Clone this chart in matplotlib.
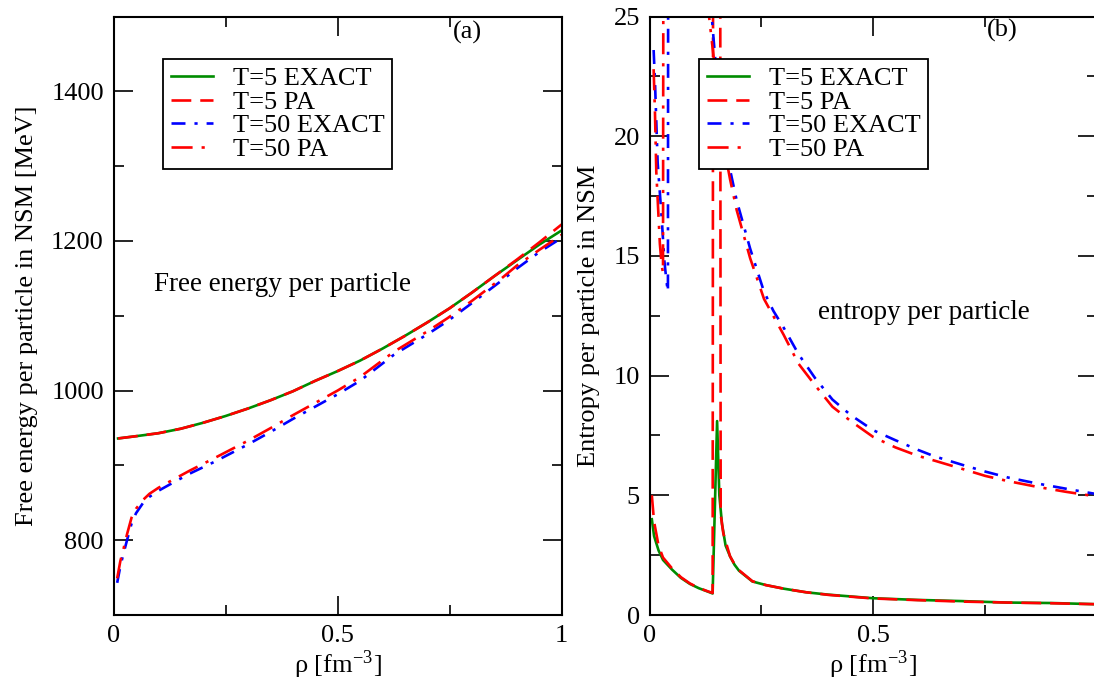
import numpy as np
import matplotlib
matplotlib.use("Agg")
import matplotlib.pyplot as plt
from matplotlib.ticker import MultipleLocator

plt.rcParams['font.family'] = ['Liberation Serif', 'DejaVu Serif']
plt.rcParams['mathtext.fontset'] = 'stix'

# ---- panel (a): free energy per particle ----
rho_a5 = [0.01, 0.05, 0.1, 0.15, 0.2, 0.25, 0.3, 0.35, 0.4, 0.45, 0.5,
          0.55, 0.6, 0.65, 0.7, 0.75, 0.8, 0.85, 0.9, 0.95, 1.0]
F_t5_exact = [936, 939, 943, 949, 957, 966, 976, 987, 999, 1013, 1026,
              1040, 1056, 1073, 1091, 1110, 1131, 1153, 1174, 1195, 1214]
F_t5_pa = [936, 939, 943, 949, 957, 966, 976, 987, 999, 1013, 1026,
           1040, 1056, 1073, 1091, 1110, 1131, 1153, 1175, 1198, 1222]

rho_a50 = [0.008, 0.015, 0.022, 0.03, 0.04, 0.05, 0.066, 0.08, 0.1, 0.13,
           0.17, 0.226, 0.3, 0.354, 0.4, 0.5, 0.55, 0.626, 0.7, 0.746,
           0.8, 0.866, 0.9, 0.95, 1.0]
F_t50_exact = [743, 765, 782, 800, 822, 836, 850, 858, 866, 876, 889, 905,
               928, 946, 962, 995, 1013, 1048, 1075, 1093, 1117, 1147,
               1163, 1185, 1204]
F_t50_pa = [749, 772, 788, 808, 830, 842, 854, 862, 870, 880, 893, 910,
            933, 951, 967, 1000, 1018, 1052, 1079, 1097, 1120, 1150,
            1167, 1188, 1208]

# ---- panel (b): entropy per particle ----
rho_b5e = [0.005, 0.01, 0.02, 0.03, 0.05, 0.07, 0.09, 0.11, 0.13, 0.141,
           0.151, 0.156, 0.162, 0.17, 0.18, 0.19, 0.2, 0.23, 0.26, 0.3,
           0.35, 0.4, 0.5, 0.6, 0.7, 0.8, 0.9, 1.0]
S_t5_exact = [4.0, 3.3, 2.7, 2.3, 1.9, 1.55, 1.3, 1.12, 0.98, 0.9,
              8.1, 5.0, 3.8, 2.9, 2.45, 2.1, 1.85, 1.4, 1.25, 1.1,
              0.95, 0.85, 0.7, 0.63, 0.58, 0.52, 0.5, 0.45]

rho_b5p = [0.005, 0.01, 0.02, 0.03, 0.05, 0.07, 0.09, 0.11, 0.13, 0.141,
           0.1425, 0.1575, 0.159, 0.165, 0.18, 0.19, 0.2, 0.23, 0.26, 0.3,
           0.35, 0.4, 0.5, 0.6, 0.7, 0.8, 0.9, 1.0]
S_t5_pa = [5.0, 3.9, 2.9, 2.4, 1.95, 1.58, 1.32, 1.13, 0.99, 0.92,
           40.0, 40.0, 4.2, 3.4, 2.45, 2.12, 1.87, 1.41, 1.25, 1.1,
           0.95, 0.84, 0.69, 0.62, 0.56, 0.52, 0.49, 0.45]

rho_b50e = [0.009, 0.012, 0.018, 0.027, 0.033, 0.038, 0.041, 0.042,
            0.135, 0.139, 0.15, 0.165, 0.18, 0.195, 0.225, 0.256, 0.277,
            0.3, 0.333, 0.37, 0.409, 0.45, 0.5, 0.55, 0.6, 0.637, 0.7,
            0.751, 0.8, 0.865, 0.93, 1.0]
S_t50_exact = [23.6, 22.3, 18.9, 16.6, 14.8, 13.9, 13.5, 40.0,
               30.0, 25.0, 22.5, 20.1, 18.6, 17.3, 15.3, 13.5, 12.7,
               12.0, 10.9, 9.9, 9.0, 8.35, 7.72, 7.3, 6.9, 6.63, 6.27,
               5.99, 5.75, 5.5, 5.28, 5.05]

rho_b50p = [0.009, 0.012, 0.015, 0.019, 0.023, 0.027, 0.03, 0.0315,
            0.13, 0.133, 0.15, 0.165, 0.18, 0.195, 0.225, 0.256, 0.3,
            0.333, 0.37, 0.409, 0.45, 0.5, 0.55, 0.6, 0.637, 0.7, 0.751,
            0.8, 0.865, 0.93, 1.0]
S_t50_pa = [22.8, 21.0, 18.5, 17.0, 15.5, 14.6, 14.3, 40.0,
            30.0, 25.0, 22.2, 19.7, 18.2, 16.9, 14.9, 13.2, 11.7,
            10.5, 9.6, 8.7, 8.1, 7.44, 7.0, 6.65, 6.45, 6.1, 5.81,
            5.6, 5.36, 5.15, 4.95]

labels = ['T=5 EXACT', 'T=5 PA', 'T=50 EXACT', 'T=50 PA']

W, H = 1094, 681
fig = plt.figure(figsize=(W / 100, H / 100), dpi=100)
axa = fig.add_axes([113.6 / W, (H - 615) / H, 448 / W, 598.5 / H])
axb = fig.add_axes([649.6 / W, (H - 615) / H, 447 / W, 598.5 / H])

lw = 1.9
fs = 19


def draw(ax, x5e, y5e, x5p, y5p, x50e, y50e, x50p, y50p):
    ax.plot(x5e, y5e, color='#008c00', lw=lw, label=labels[0])
    ax.plot(x5p, y5p, color='red', lw=lw, dashes=(7.5, 3.4), label=labels[1])
    ax.plot(x50e, y50e, color='blue', lw=lw, dashes=(5.3, 3.4, 1.2, 3.4),
            label=labels[2])
    ax.plot(x50p, y50p, color='red', lw=lw, dashes=(8, 3.4, 1.2, 3.4),
            label=labels[3])
    for s in ax.spines.values():
        s.set_linewidth(1.5)
    ax.tick_params(which='both', direction='in', top=True, right=True,
                   labelsize=fs, width=1.2, pad=7)
    ax.tick_params(which='major', length=14)
    ax.tick_params(which='minor', length=7)
    leg = ax.legend(loc='upper left', bbox_to_anchor=(0.11, 0.929),
                    fontsize=fs, frameon=True, fancybox=False,
                    edgecolor='black', framealpha=1, handlelength=1.6,
                    handletextpad=0.75, labelspacing=0.0, borderpad=0.3,
                    borderaxespad=0)
    leg.get_frame().set_linewidth(1.3)


draw(axa, rho_a5, F_t5_exact, rho_a5, F_t5_pa,
     rho_a50, F_t50_exact, rho_a50, F_t50_pa)
axa.set_xlim(0, 1)
axa.set_ylim(700, 1500)
axa.xaxis.set_minor_locator(MultipleLocator(0.25))
axa.yaxis.set_minor_locator(MultipleLocator(100))
axa.set_xticks([0, 0.5, 1])
axa.set_xticklabels(['0', '0.5', '1'])
axa.set_yticks([800, 1000, 1200, 1400])
axa.set_ylabel('Free energy per particle in NSM [MeV]', fontsize=fs)
axa.yaxis.set_label_coords(-0.169, 0.5)
axa.set_xlabel('ρ [fm$^{\\mathregular{-3}}$]', fontsize=fs)
axa.xaxis.set_label_coords(0.5, -0.056)
axa.text(0.79, 0.974, '(a)', transform=axa.transAxes, fontsize=fs,
         ha='center', va='center')
axa.text(0.378, 0.553, 'Free energy per particle', transform=axa.transAxes,
         fontsize=fs + 0.5, ha='center', va='center')

draw(axb, rho_b5e, S_t5_exact, rho_b5p, S_t5_pa,
     rho_b50e, S_t50_exact, rho_b50p, S_t50_pa)
axb.set_xlim(0, 1)
axb.set_ylim(0, 25)
axb.set_xticks([0, 0.5])
axb.set_xticklabels(['0', '0.5'])
axb.xaxis.set_minor_locator(MultipleLocator(0.25))
axb.yaxis.set_major_locator(MultipleLocator(5))
axb.yaxis.set_minor_locator(MultipleLocator(2.5))
axb.set_ylabel('Entropy per particle in NSM', fontsize=fs)
axb.yaxis.set_label_coords(-0.111, 0.5)
axb.set_xlabel('ρ [fm$^{\\mathregular{-3}}$]', fontsize=fs)
axb.xaxis.set_label_coords(0.5, -0.056)
axb.text(0.79, 0.977, '(b)', transform=axb.transAxes, fontsize=fs,
         ha='center', va='center')
axb.text(0.614, 0.505, 'entropy per particle', transform=axb.transAxes,
         fontsize=fs + 0.5, ha='center', va='center')

fig.savefig('out.png', dpi=100)
